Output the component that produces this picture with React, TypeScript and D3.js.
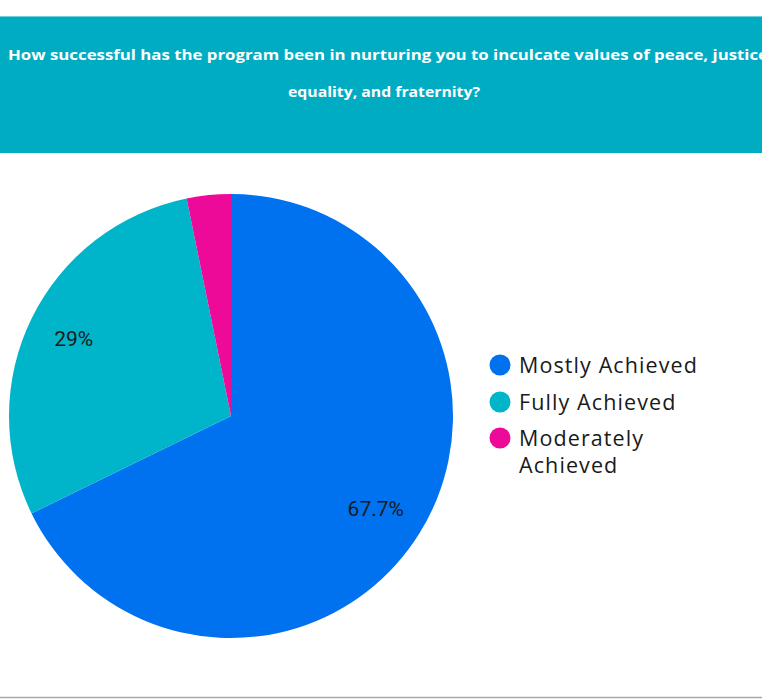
import React from "react";
import * as d3 from "d3";

const categories = ["Mostly Achieved", "Fully Achieved", "Moderately Achieved"];
const values = [67.7, 29, 3.2];
const labels = ["67.7%", "29%", ""];
const colors = ["#0072EF", "#00B4C9", "#EE0A98"];
const titleLines = [
  "How successful has the program been in nurturing you to inculcate values of peace, justice",
  "equality, and fraternity?",
];
const legendLines = [["Mostly Achieved"], ["Fully Achieved"], ["Moderately", "Achieved"]];

export default function App() {
  const W = 762, H = 699;
  const cx = 231, cy = 416, R = 222;
  const pie = d3.pie<number>().sort(null).value((d) => d);
  const arcs = pie(values);
  const arc = d3.arc<d3.PieArcDatum<number>>().innerRadius(0).outerRadius(R);
  const labelArc = d3.arc<d3.PieArcDatum<number>>().innerRadius(R * 0.79).outerRadius(R * 0.79);
  const legendY = [365, 402, 438];
  return (
    <svg width={W} height={H} style={{ position: "fixed", left: 0, top: 0 }}>
      <rect x={0} y={0} width={W} height={H} fill="#fff" />
      <rect x={0} y={16} width={W} height={137} fill="#00ACC2" />
      <line x1={0} x2={W} y1={16.5} y2={16.5} stroke="#6fd0dc" strokeWidth={1} />
      <text x={8} y={60} fill="#fff" fontFamily="Open Sans, sans-serif" fontWeight={700} fontSize={15} textLength={760} lengthAdjust="spacingAndGlyphs">
        {titleLines[0]}
      </text>
      <text x={288} y={97} fill="#fff" fontFamily="Open Sans, sans-serif" fontWeight={700} fontSize={15} textLength={192} lengthAdjust="spacingAndGlyphs">
        {titleLines[1]}
      </text>
      <g transform={`translate(${cx},${cy})`}>
        {arcs.map((a, i) => (
          <path key={i} d={arc(a) || ""} fill={colors[i]} />
        ))}
        {arcs.map((a, i) => {
          const [x, y] = labelArc.centroid(a);
          return labels[i] ? (
            <text key={i} x={x - (i === 0 ? 4 : 0)} y={y} dy="0.35em" textAnchor="middle" fontFamily="Roboto, sans-serif" fontSize={21} fill="#1a1a1a">
              {labels[i]}
            </text>
          ) : null;
        })}
      </g>
      {categories.map((c, i) => (
        <g key={c}>
          <circle cx={500} cy={legendY[i]} r={10.5} fill={colors[i]} />
          {legendLines[i].map((ln, j) => (
            <text key={j} x={519} y={legendY[i] + 8 + j * 27} fontFamily="Open Sans, sans-serif" fontSize={21.5} letterSpacing={1.1} fill="#1a1a1a">
              {ln}
            </text>
          ))}
        </g>
      ))}
      <line x1={0} x2={W} y1={697.5} y2={697.5} stroke="#a8a8a8" strokeWidth={1.5} />
    </svg>
  );
}
